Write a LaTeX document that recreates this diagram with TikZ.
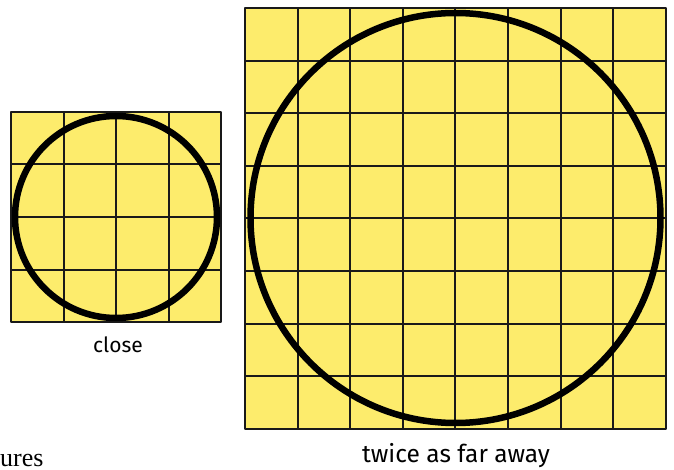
\documentclass[tikz,border=0pt]{standalone}
\usepackage{fontspec}
\newfontfamily\handfont{Fira Sans}
\newfontfamily\bookfont{Liberation Serif}
\definecolor{paper}{RGB}{253,236,108}
\begin{document}
\begin{tikzpicture}[
  x=1pt, y=-1pt,
  line join=round,
  cell/.style={fill=paper, draw=black!90, line width=2pt},
  ring/.style={line width=6.5pt},
  caption/.style={font=\handfont\fontsize{21}{24}\selectfont, inner sep=0pt, anchor=base},
]
\useasboundingbox (0,0) rectangle (674,470);

% close: a 4 by 4 grid
\foreach \i in {0,...,3} {
  \foreach \j in {0,...,3} {
    \draw[cell] (11+52.5*\i,112+52.5*\j) rectangle ++(52.5,52.5);
  }
}
\draw[ring] (116,217) circle (101);

% twice as far away: an 8 by 8 grid
\foreach \i in {0,...,7} {
  \foreach \j in {0,...,7} {
    \draw[cell] (245+52.6*\i,8+52.6*\j) rectangle ++(52.6,52.6);
  }
}
\draw[ring] (455.5,218) circle (205);

\node[caption] (close) at (118,352) {close};
\node[caption, font=\handfont\fontsize{24.5}{28}\selectfont] (far) at (456,462) {twice as far away};
\node[anchor=base west, inner sep=0pt, font=\bookfont\fontsize{26}{30}\selectfont] (cut) at (0,466) {ures};
\end{tikzpicture}
\end{document}
